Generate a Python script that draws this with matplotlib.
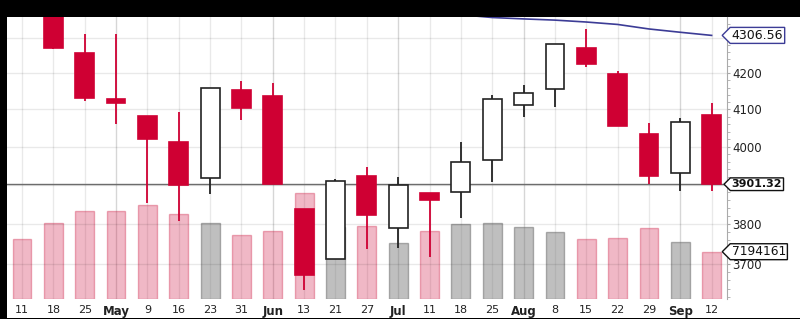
import matplotlib.pyplot as plt
import matplotlib.transforms as mtransforms
from matplotlib.patches import Rectangle
from matplotlib.path import Path
from matplotlib.ticker import FixedLocator, FixedFormatter, NullFormatter

plt.rcParams['font.family'] = ['DejaVu Sans']

# weekly bars, Apr - Sep
weeks = ['11', '18', '25', 'May', '9', '16', '23', '31', 'Jun', '13', '21', '27',
         'Jul', '11', '18', '25', 'Aug', '8', '15', '22', '29', 'Sep', '12']
opens = [4420, 4390, 4255.7, 4129.6, 4081.4, 4011, 3917, 4152.4, 4136.7, 3837.8, 3713, 3923,
         3790.5, 3879.5, 3882, 3965, 4112, 4155, 4269.8, 4197.6, 4033.4, 3931, 4085]
highs = [4445, 4400, 4309.7, 4309.7, 4081.4, 4092, 4159.6, 4179, 4171.7, 3837.8, 3914, 3947,
         3919.5, 3879.5, 4011, 4139.7, 4167, 4282, 4324, 4206, 4062, 4077.5, 4118.5]
lows = [4365, 4268, 4123.8, 4060.6, 3853.6, 3807, 3875, 4071, 3902, 3637, 3713, 3736,
        3740, 3718, 3814, 3908, 4078.6, 4107.5, 4218, 4055.8, 3901, 3884.7, 3884.7]
closes = [4385, 4271.5, 4130.4, 4117, 4021, 3899, 4159.6, 4104.8, 3902, 3673, 3910.5, 3822,
          3899, 3860, 3960.4, 4129.3, 4144, 4282, 4225.5, 4055.8, 3923.5, 4066, 3901.32]
volumes = [9.13e6, 11.56e6, 13.4e6, 13.4e6, 14.3e6, 13.0e6, 11.56e6, 9.7e6, 10.3e6, 16.1e6,
           10.95e6, 11.1e6, 8.47e6, 10.3e6, 11.36e6, 11.56e6, 10.95e6, 10.2e6, 9.13e6, 9.28e6,
           10.75e6, 8.72e6, 7194161]
moving_avg = [4420, 4415, 4410, 4406, 4402, 4398, 4395, 4392, 4389, 4386, 4383, 4380, 4377,
              4372, 4366, 4358, 4354, 4350.5, 4345, 4338, 4325, 4315.5, 4306.56]

price_levels = [3700, 3800, 3900, 4000, 4100, 4200, 4300]
price_labels = ['3700', '3800', '', '4000', '4100', '4200', '']
month_idx = [3, 8, 12, 16, 21]

RED = '#cf0033'
DARK = '#222222'
NAVY = '#3c3c96'

x = list(range(len(weeks)))
up = [c >= o for o, c in zip(opens, closes)]

fig = plt.figure(figsize=(8, 3.19), dpi=100, facecolor='black')
fig.add_artist(Rectangle((7 / 800, 1 / 319), 793 / 800, 301 / 319, transform=fig.transFigure,
                         facecolor='white', edgecolor='none', zorder=0))

axv = fig.add_axes([7 / 800, 20 / 319, 720 / 800, 282 / 319])
ax = axv.twinx()

# volume panel
vol_face = [(0.45, 0.45, 0.45, 0.45) if u else (0.8, 0.0, 0.2, 0.28) for u in up]
vol_edge = [(0.4, 0.4, 0.4, 0.5) if u else (0.8, 0.1, 0.25, 0.35) for u in up]
axv.bar(x, volumes, width=0.6, color=vol_face, edgecolor=vol_edge, linewidth=1)
axv.set_ylim(0, 42.9e6)
axv.set_xlim(-0.48, 22.49)
axv.set_yticks([])
axv.set_xticks(x)
axv.set_xticklabels(weeks, fontsize=8, color='#222')
for i in month_idx:
    axv.get_xticklabels()[i].set_fontweight('bold')
    axv.get_xticklabels()[i].set_fontsize(8.5)
axv.tick_params(axis='x', length=0, pad=4.5)
axv.grid(axis='x', color='black', alpha=0.085, lw=1)
for i in month_idx:
    axv.xaxis.get_gridlines()[i].set_alpha(0.16)
axv.set_axisbelow(True)
for s in axv.spines.values():
    s.set_visible(False)

# price panel
ax.set_yscale('log')
ax.set_ylim(3615, 4359.5)
ax.yaxis.set_major_locator(FixedLocator(price_levels))
ax.yaxis.set_major_formatter(FixedFormatter(price_labels))
ax.yaxis.set_minor_locator(FixedLocator([v for v in range(3620, 4360, 20) if v % 100]))
ax.yaxis.set_minor_formatter(NullFormatter())
ax.tick_params(axis='y', which='major', length=2.5, pad=1.5, labelsize=8.5, colors='#222')
ax.tick_params(axis='y', which='minor', length=1.8, color='#aaa')
ax.tick_params(axis='y', which='major', color='#aaa')
ax.grid(axis='y', which='major', color='black', alpha=0.085, lw=1)
for s in ['top', 'left', 'bottom']:
    ax.spines[s].set_visible(False)
ax.spines['right'].set_color('#aaaaaa')

ax.axhline(closes[-1], color='#6e6e6e', lw=1, zorder=1.5)

wick_col = [DARK if u else RED for u in up]
ax.vlines(x, lows, highs, colors=wick_col, lw=1.3, zorder=2)
body_h = [abs(c - o) for o, c in zip(opens, closes)]
body_b = [min(o, c) for o, c in zip(opens, closes)]
ax.bar(x, body_h, bottom=body_b, width=0.6,
       color=['white' if u else RED for u in up],
       edgecolor=wick_col, linewidth=1.2, zorder=3)

ax.plot(x, moving_avg, color=NAVY, lw=1.2, zorder=4)


def tag(x0, y0, width, height, mutation_scale):
    pad = mutation_scale * 0.12
    x0, y0 = x0 - pad, y0 - pad
    x1, y1 = x0 + width + 2 * pad, y0 + height + 2 * pad
    tip = (y1 - y0) / 2
    return Path([(x0, y0), (x1, y0), (x1, y1), (x0, y1), (x0 - tip, (y0 + y1) / 2), (x0, y0)],
                closed=True)


tp = mtransforms.blended_transform_factory(ax.transAxes, ax.transData)
tv = mtransforms.blended_transform_factory(axv.transAxes, axv.transData)
ax.text(1.0065, moving_avg[-1], '%.2f' % moving_avg[-1], transform=tp, ha='left', va='center',
        fontsize=9, color='#111',
        bbox=dict(boxstyle=tag, fc='white', ec=NAVY, lw=1), zorder=10)
ax.text(1.0065, closes[-1], '%.2f' % closes[-1], transform=tp, ha='left', va='center',
        fontsize=8, fontweight='bold', color='#111',
        bbox=dict(boxstyle=tag, fc='white', ec='#111', lw=1), zorder=10)
ax.text(1.0065, volumes[-1], '%d' % volumes[-1], transform=tv, ha='left', va='center',
        fontsize=8.8, color='#111',
        bbox=dict(boxstyle=tag, fc='white', ec='#111', lw=1), zorder=10)

fig.savefig('out.png', dpi=100, facecolor='black')
